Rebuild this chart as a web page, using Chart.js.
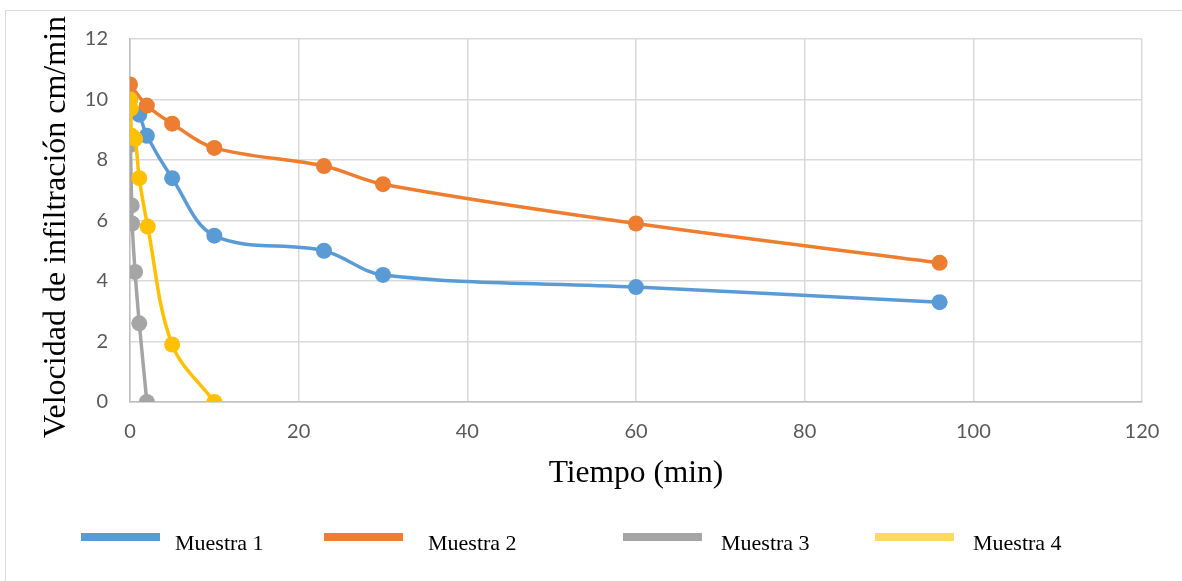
<!DOCTYPE html>
<html>
<head>
<meta charset="utf-8">
<script src="https://cdn.jsdelivr.net/npm/chart.js@4/dist/chart.umd.min.js"></script>
<style>
  html, body { margin: 0; padding: 0; background: #fff; }
  #wrap { position: relative; width: 1182px; height: 581px; overflow: hidden; }
  #frame { position: absolute; left: 5px; top: 10px; width: 1300px; height: 700px;
           border-left: 1px solid #d9d9d9; border-top: 1px solid #d9d9d9; }
  canvas { position: absolute; left: 0; top: 0; }
</style>
</head>
<body>
<div id="wrap">
  <div id="frame"></div>
  <canvas id="chart" width="1182" height="581"></canvas>
</div>
<script>
// Infiltration rate (cm/min) versus elapsed time (min) for four soil samples
const seriesNames = ['Muestra 1', 'Muestra 2', 'Muestra 3', 'Muestra 4'];

const tiempo1 = [0, 1.1, 2, 5, 10, 23, 30, 60, 96];
const velocidad1 = [10, 9.5, 8.8, 7.4, 5.5, 5.0, 4.2, 3.8, 3.3];

const tiempo2 = [0, 2, 5, 10, 23, 30, 60, 96];
const velocidad2 = [10.5, 9.8, 9.2, 8.4, 7.8, 7.2, 5.9, 4.6];

const tiempo3 = [0, 0.05, 0.2, 0.25, 0.6, 1.1, 2];
const velocidad3 = [10, 8.5, 6.5, 5.9, 4.3, 2.6, 0];

const tiempo4 = [0, 0.1, 0.2, 0.6, 1.1, 2.1, 5, 10];
const velocidad4 = [10, 9.7, 8.8, 8.7, 7.4, 5.8, 1.9, 0];

const xTicks = [0, 20, 40, 60, 80, 100, 120];
const yTicks = [0, 2, 4, 6, 8, 10, 12];

const xTitle = 'Tiempo (min)';
const yTitle = 'Velocidad de infiltración cm/min';

const lineColors = ['#5b9bd5', '#ed7d31', '#a5a5a5', '#ffc000'];
const legendColors = ['#5b9bd5', '#ed7d31', '#a5a5a5', '#ffd966'];

const tiempos = [tiempo1, tiempo2, tiempo3, tiempo4];
const velocidades = [velocidad1, velocidad2, velocidad3, velocidad4];

const serifFont = '"Liberation Serif", "Times New Roman", serif';

const datasets = seriesNames.map((name, i) => ({
  label: name,
  data: tiempos[i].map((t, k) => ({ x: t, y: velocidades[i][k] })),
  showLine: true,
  tension: 0.35,
  borderColor: lineColors[i],
  backgroundColor: lineColors[i],
  borderWidth: 3.5,
  pointRadius: 8,
  pointHoverRadius: 8,
  pointBorderWidth: 0,
  pointBackgroundColor: lineColors[i],
  order: seriesNames.length - i
}));

// Vertical axis caption, centred on the full height of the left margin
const yCaption = {
  id: 'yCaption',
  afterDraw(chart) {
    const ctx = chart.ctx;
    ctx.save();
    ctx.translate(57, 227);
    ctx.rotate(-Math.PI / 2);
    ctx.font = '32px ' + serifFont;
    ctx.fillStyle = '#000';
    ctx.textAlign = 'center';
    ctx.textBaseline = 'middle';
    ctx.fillText(yTitle, 0, 0);
    ctx.restore();
  }
};

// Legend row under the plot: a thick colour stroke followed by the series name
const bottomLegend = {
  id: 'bottomLegend',
  afterDraw(chart) {
    const ctx = chart.ctx;
    const strokeStart = [81, 324, 623, 875];
    const textStart = [175, 428, 721, 973];
    ctx.save();
    ctx.font = '22px ' + serifFont;
    ctx.textBaseline = 'alphabetic';
    ctx.textAlign = 'left';
    seriesNames.forEach((name, i) => {
      ctx.fillStyle = legendColors[i];
      ctx.fillRect(strokeStart[i], 533, 79, 8);
      ctx.fillStyle = '#000';
      ctx.fillText(name, textStart[i], 550);
    });
    ctx.restore();
  }
};

new Chart(document.getElementById('chart'), {
  type: 'scatter',
  data: { datasets },
  options: {
    responsive: false,
    animation: false,
    devicePixelRatio: 1,
    layout: { padding: { left: 0, top: 39, right: 40, bottom: 0 } },
    plugins: {
      legend: { display: false },
      tooltip: { enabled: false }
    },
    scales: {
      x: {
        type: 'linear',
        min: 0,
        max: 120,
        afterBuildTicks: (scale) => { scale.ticks = xTicks.map(v => ({ value: v })); },
        afterFit: (scale) => { scale.height = 179; },
        ticks: {
          padding: 18,
          color: '#595959',
          font: { family: 'Lato', size: 20 }
        },
        grid: { color: '#d9d9d9', lineWidth: 1.5, drawTicks: false },
        border: { color: '#bfbfbf', width: 1.5 },
        title: {
          display: true,
          text: xTitle,
          color: '#000',
          font: { family: serifFont, size: 31.5 },
          padding: { top: 0, bottom: 88 }
        }
      },
      y: {
        type: 'linear',
        min: 0,
        max: 12,
        afterBuildTicks: (scale) => { scale.ticks = yTicks.map(v => ({ value: v })); },
        afterFit: (scale) => { scale.width = 130; },
        ticks: {
          padding: 22,
          color: '#595959',
          font: { family: 'Lato', size: 20 }
        },
        grid: { color: '#d9d9d9', lineWidth: 1.5, drawTicks: false },
        border: { color: '#bfbfbf', width: 1.5 }
      }
    }
  },
  plugins: [yCaption, bottomLegend]
});
</script>
</body>
</html>
